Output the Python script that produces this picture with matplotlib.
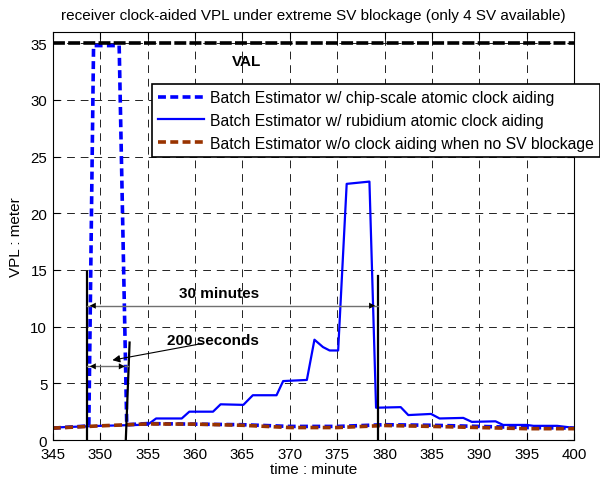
import matplotlib
matplotlib.use("Agg")
import matplotlib.pyplot as plt

plt.rcParams["font.family"] = ["Liberation Sans", "DejaVu Sans"]

# chip-scale atomic clock aiding (blue dashed)
csac_t = [345, 346, 347, 348, 348.8, 349.3, 352.0, 352.8, 355, 360, 365, 370, 375, 380, 385, 390, 395, 400]
csac_vpl = [1.05, 1.1, 1.15, 1.2, 1.25, 34.8, 34.8, 1.35, 1.45, 1.4, 1.35, 1.2, 1.2, 1.35, 1.3, 1.2, 1.1, 1.05]

# rubidium atomic clock aiding (blue solid)
rb_t = [345, 350, 355.0, 355.9, 358.6, 359.4, 361.9, 362.7, 365.1, 366.1, 368.6, 369.3, 371.8,
        372.6, 373.5, 374.2, 375.1, 376.0, 378.4, 379.1, 381.7, 382.5, 384.9, 385.8, 388.3,
        389.2, 391.7, 392.5, 395.0, 395.7, 398.2, 400]
rb_vpl = [1.1, 1.25, 1.35, 1.9, 1.9, 2.5, 2.5, 3.15, 3.1, 3.95, 3.95, 5.2, 5.3,
          8.85, 8.2, 7.9, 7.9, 22.6, 22.8, 2.85, 2.9, 2.2, 2.3, 1.9, 1.95,
          1.6, 1.65, 1.33, 1.33, 1.25, 1.25, 1.07]

# no clock aiding, no SV blockage (brown dashed)
nc_t = [345, 350, 355, 360, 365, 370, 375, 380, 385, 390, 395, 400]
nc_vpl = [1.05, 1.25, 1.42, 1.4, 1.3, 1.1, 1.1, 1.28, 1.2, 1.1, 1.0, 1.0]

VAL = 35
T_START, T_CSAC_END, T_RB_END = 348.6, 352.9, 379.3

fig = plt.figure(figsize=(6, 4.85), dpi=100)
ax = fig.add_axes([0.088, 0.0907, 0.869, 0.8413])

dash = (0, (2.2, 1.2))
ax.plot(csac_t, csac_vpl, color="#0000FF", linestyle=dash, linewidth=2.6,
        label="Batch Estimator w/ chip-scale atomic clock aiding")
ax.plot(rb_t, rb_vpl, color="#0000FF", linewidth=1.6,
        label="Batch Estimator w/ rubidium atomic clock aiding")
ax.plot(nc_t, nc_vpl, color="#993300", linestyle=dash, linewidth=2.6,
        label="Batch Estimator w/o clock aiding when no SV blockage")
ax.axhline(VAL, color="black", linestyle=(0, (3.3, 0.9)), linewidth=2.6, zorder=3)

# markers of the blockage periods
ax.plot([T_START, T_START], [0, 14.85], color="black", linewidth=1.6)
ax.plot([352.7, 353.1], [0, 8.6], color="black", linewidth=1.6)
ax.plot([T_RB_END, T_RB_END], [0, 14.5], color="black", linewidth=1.6)

head = dict(arrowstyle="<|-|>", color="black", lw=0.0, mutation_scale=11)
ax.plot([T_START, T_RB_END], [11.85, 11.85], color="#707070", linewidth=1.0)
ax.annotate("", xy=(T_START, 11.85), xytext=(T_RB_END, 11.85), arrowprops=head)
ax.plot([T_START, T_CSAC_END], [6.5, 6.5], color="#707070", linewidth=1.0)
ax.annotate("", xy=(T_START, 6.5), xytext=(T_CSAC_END, 6.5), arrowprops=head)
ax.annotate("", xy=(351.0, 7.0), xytext=(361.0, 8.55),
            arrowprops=dict(arrowstyle="-|>", color="black", lw=0.8, mutation_scale=11))

ax.text(362.5, 13.0, "30 minutes", ha="center", va="center", fontsize=11, weight="bold")
ax.text(361.9, 8.8, "200 seconds", ha="center", va="center", fontsize=11, weight="bold")
ax.text(365.4, 33.4, "VAL", ha="center", va="center", fontsize=11, weight="bold")

ax.set_xlim(345, 400)
ax.set_ylim(0, 36)
ax.set_xticks(range(345, 401, 5))
ax.set_yticks(range(0, 36, 5))
ax.grid(True, color="#222222", linestyle=(0, (8, 6)), linewidth=0.7)
ax.tick_params(direction="in", top=True, right=True, labelsize=10.8, length=5)
ax.tick_params(axis="x", pad=5)
ax.tick_params(axis="y", pad=4)
ax.set_title("receiver clock-aided VPL under extreme SV blockage (only 4 SV available)",
             fontsize=11, pad=9)
ax.set_xlabel("time : minute", fontsize=11, labelpad=1)
ax.set_ylabel("VPL : meter", fontsize=11, labelpad=5)

leg = ax.legend(loc="upper left", bbox_to_anchor=(0.19, 0.873), fontsize=11.3, fancybox=False,
                framealpha=1, edgecolor="black", handlelength=2.9, borderpad=0.4,
                labelspacing=0.5, handletextpad=0.4, borderaxespad=0)
leg.get_frame().set_linewidth(1.2)

fig.savefig("out.png", dpi=100, facecolor="white")
